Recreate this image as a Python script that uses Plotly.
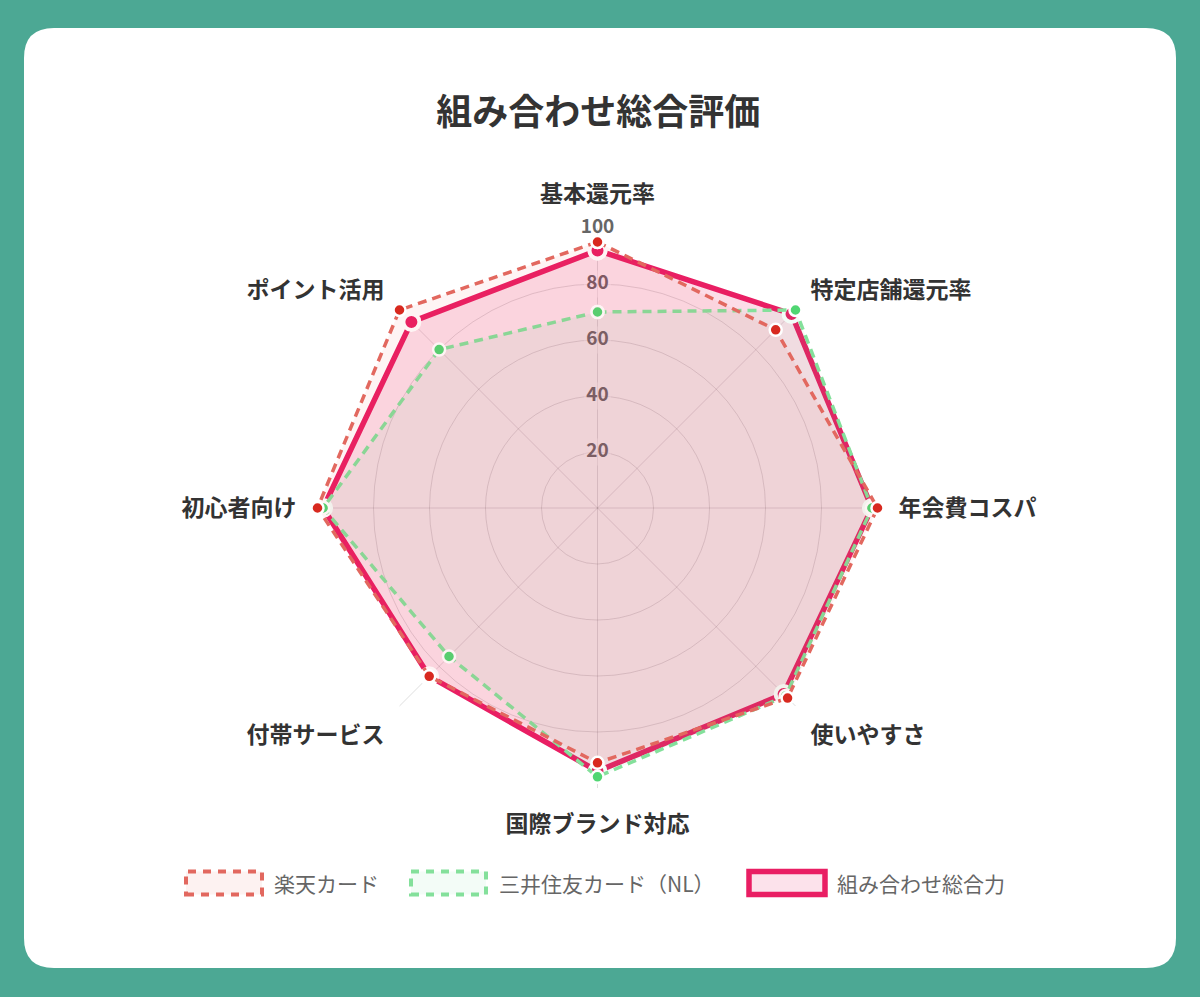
import plotly.graph_objects as go

CATEGORIES = ["基本還元率", "特定店舗還元率", "年会費コスパ", "使いやすさ",
              "国際ブランド対応", "付帯サービス", "初心者向け", "ポイント活用"]
RAKUTEN = [95, 90, 100, 96, 91, 85, 100, 100]
SMBC_NL = [70, 100, 98, 95, 96, 75, 98, 80]
COMBINED = [92, 98, 98, 94, 94, 85, 98, 94]
SERIES_NAMES = ["楽天カード", "三井住友カード（NL）", "組み合わせ総合力"]
TICK_VALUES = [20, 40, 60, 80, 100]
TITLE = "組み合わせ総合評価"

W, H = 1200, 997
FONT = "Noto Sans CJK JP, Noto Sans, sans-serif"
BG = "#4ca894"


def closed(vals):
    return list(vals) + [vals[0]]


def px(x):
    return x / W


def py(y):
    return 1 - y / H


fig = go.Figure()

# radial tick labels drawn centred on the top spoke
fig.add_trace(go.Scatterpolar(
    r=TICK_VALUES, theta=[CATEGORIES[0]] * len(TICK_VALUES),
    mode="markers+text", text=[str(v) for v in TICK_VALUES],
    textposition="middle center",
    textfont=dict(family=FONT, size=19, color="#666666", weight="bold"),
    marker=dict(symbol="square", size=27, color="rgba(255,255,255,0.45)",
                line=dict(width=0)),
    showlegend=False, hoverinfo="skip",
))

styles = [
    dict(fill="rgba(231,76,60,0.06)", line="#e2685f", width=3.5, dash="9px,6px",
         mcolor="#d8291f", msize=12, mline=2.5,
         lfill="rgba(231,76,60,0.07)"),
    dict(fill="rgba(46,204,113,0.06)", line="#84e09b", width=3.5, dash="9px,6px",
         mcolor="#50d672", msize=12, mline=2.5,
         lfill="rgba(46,204,113,0.06)"),
    dict(fill="rgba(233,30,99,0.15)", line="#e91e63", width=5.5, dash="solid",
         mcolor="#e91e63", msize=16, mline=4,
         lfill="rgba(233,30,99,0.13)"),
]
series = [RAKUTEN, SMBC_NL, COMBINED]

# draw combined first (bottom), then SMBC, then Rakuten on top
for i in [2, 1, 0]:
    s = styles[i]
    fig.add_trace(go.Scatterpolar(
        r=closed(series[i]), theta=closed(CATEGORIES), name=SERIES_NAMES[i],
        mode="lines+markers", fill="toself", fillcolor=s["fill"],
        line=dict(color=s["line"], width=s["width"], dash=s["dash"]),
        marker=dict(size=s["msize"], color=s["mcolor"],
                    line=dict(color="white", width=s["mline"])),
        showlegend=False,
    ))

# polar domain: centre (597.5, 508) px, radius 280 px
cx, cy, R = 597.5, 508, 280
dom_x = [(cx - R) / W, (cx + R) / W]
dom_y = [(H - cy - R) / H, (H - cy + R) / H]

x0, y0, x1, y1, rr = 24, 28, 1176, 968, 30
path = (f"M {px(x0+rr)},{py(y0)} L {px(x1-rr)},{py(y0)} "
        f"Q {px(x1)},{py(y0)} {px(x1)},{py(y0+rr)} "
        f"L {px(x1)},{py(y1-rr)} Q {px(x1)},{py(y1)} {px(x1-rr)},{py(y1)} "
        f"L {px(x0+rr)},{py(y1)} Q {px(x0)},{py(y1)} {px(x0)},{py(y1-rr)} "
        f"L {px(x0)},{py(y0+rr)} Q {px(x0)},{py(y0)} {px(x0+rr)},{py(y0)} Z")

shapes = [dict(type="path", path=path, xref="paper", yref="paper",
               fillcolor="white", line=dict(width=0), layer="below")]
annotations = []

# legend (box swatches like the original)
leg_y = 883
leg_boxes = [(186, 262), (411, 486), (749, 825)]
leg_text_x = [272, 497, 835]
for i, (bx0, bx1) in enumerate(leg_boxes):
    s = styles[i]
    shapes.append(dict(
        type="rect", xref="paper", yref="paper",
        x0=px(bx0), x1=px(bx1), y0=py(leg_y + 11.5), y1=py(leg_y - 11.5),
        fillcolor=s["lfill"],
        line=dict(color=s["line"], width=4 if i < 2 else 5.5,
                  dash="8px,7px" if i < 2 else "solid"),
        layer="above"))
    annotations.append(dict(
        text=SERIES_NAMES[i], x=px(leg_text_x[i]), y=py(leg_y),
        xref="paper", yref="paper", xanchor="left", yanchor="middle",
        showarrow=False,
        font=dict(family=FONT, size=21, color="#666666")))

fig.update_layout(
    width=W, height=H,
    margin=dict(l=0, r=0, t=0, b=0),
    paper_bgcolor=BG,
    plot_bgcolor="white",
    font=dict(family=FONT, color="#333333"),
    shapes=shapes,
    annotations=annotations,
    title=dict(text=TITLE, x=0.4985, xanchor="center", y=py(112),
               yanchor="middle",
               font=dict(family=FONT, size=36, color="#333333", weight="bold")),
    polar=dict(
        domain=dict(x=dom_x, y=dom_y),
        bgcolor="rgba(0,0,0,0)",
        gridshape="circular",
        radialaxis=dict(range=[0, 100], tickvals=TICK_VALUES,
                        showticklabels=False, ticks="",
                        showline=False, gridcolor="rgba(0,0,0,0.13)",
                        gridwidth=1.2),
        angularaxis=dict(rotation=90, direction="clockwise",
                         showline=False, gridcolor="rgba(0,0,0,0.13)",
                         gridwidth=1.2, ticks="outside", ticklen=16,
                         tickcolor="rgba(0,0,0,0)",
                         tickfont=dict(family=FONT, size=23, color="#333333",
                                       weight="bold")),
    ),
    showlegend=False,
)

fig.write_html(
    "out.html",
    config={"displayModeBar": False},
    post_script=("document.body.style.margin='0';"
                 f"document.body.style.background='{BG}';"),
)
